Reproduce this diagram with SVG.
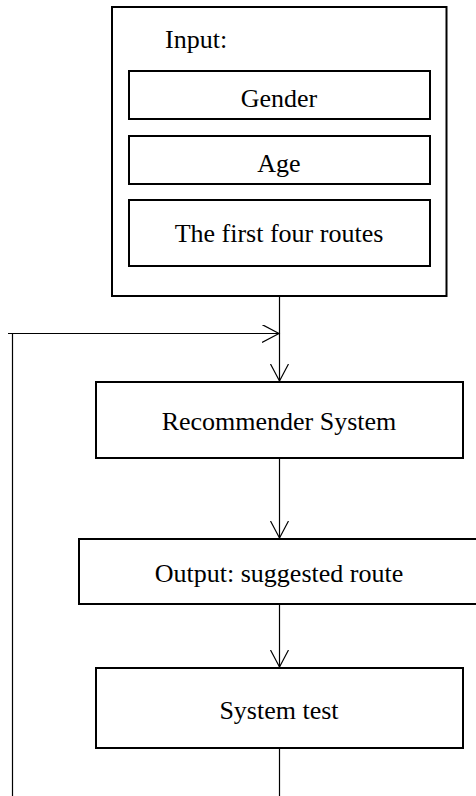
<svg xmlns="http://www.w3.org/2000/svg" width="476" height="796" viewBox="0 0 476 796">
<style>
.box{fill:#fff;stroke:#000;stroke-width:2}
.t{font-family:"Liberation Serif","Times New Roman",serif;font-size:26px;fill:#000}
.c{text-anchor:middle}
.ln{stroke:#000;stroke-width:1.2;fill:none}
</style>
<defs>
<marker id="ah" markerWidth="20" markerHeight="20" viewBox="0 0 20 20" refX="17" refY="9" orient="auto" markerUnits="userSpaceOnUse">
<path d="M0,0 L17,9 L0,18" fill="none" stroke="#000" stroke-width="1.2"/>
</marker>
</defs>
<g id="connectors">
<line class="ln" x1="279.5" y1="297" x2="279.5" y2="381" marker-end="url(#ah)"/>
<line class="ln" x1="8" y1="333.5" x2="279" y2="333.5" marker-end="url(#ah)"/>
<line class="ln" x1="12.5" y1="333.5" x2="12.5" y2="796"/>
<line class="ln" x1="279.5" y1="459" x2="279.5" y2="538" marker-end="url(#ah)"/>
<line class="ln" x1="279.5" y1="605" x2="279.5" y2="667" marker-end="url(#ah)"/>
<line class="ln" x1="279.5" y1="749" x2="279.5" y2="796"/>
</g>
<g id="input">
<rect class="box" x="112" y="7" width="334.5" height="289"/>
<text class="t" x="165" y="48">Input:</text>
</g>
<g id="gender">
<rect class="box" x="129" y="71" width="301" height="48"/>
<text class="t c" x="279" y="107">Gender</text>
</g>
<g id="age">
<rect class="box" x="129" y="136" width="301" height="48"/>
<text class="t c" x="279" y="172">Age</text>
</g>
<g id="routes">
<rect class="box" x="129" y="200" width="301" height="66"/>
<text class="t c" x="279" y="242">The first four routes</text>
</g>
<g id="recommender">
<rect class="box" x="96" y="382" width="367" height="76"/>
<text class="t c" x="279" y="430">Recommender System</text>
</g>
<g id="output">
<rect class="box" x="79" y="539" width="410" height="65"/>
<text class="t c" x="279" y="582">Output: suggested route</text>
</g>
<g id="systemtest">
<rect class="box" x="96" y="668" width="367" height="80"/>
<text class="t c" x="279" y="719">System test</text>
</g>
</svg>
